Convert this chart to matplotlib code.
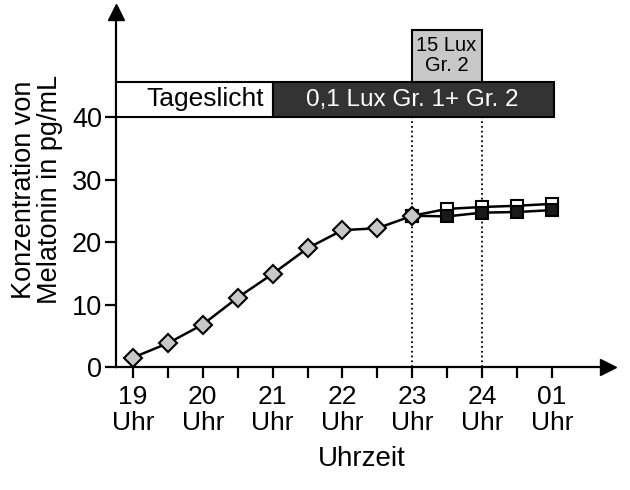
import matplotlib
matplotlib.use("Agg")
import matplotlib.pyplot as plt
from matplotlib.patches import Rectangle

plt.rcParams['font.family'] = ['Liberation Sans', 'DejaVu Sans']

# Uhrzeit in Stunden (25 = 01 Uhr)
t_tag = [19, 19.5, 20, 20.5, 21, 21.5, 22, 22.5, 23]
mel_tag = [1.5, 3.8, 6.8, 11.1, 14.9, 19.0, 21.9, 22.2, 24.2]

t_nacht = [23, 23.5, 24, 24.5, 25]
mel_gr2 = [24.2, 25.3, 25.6, 25.8, 26.1]   # offene Quadrate
mel_gr1 = [24.2, 24.1, 24.7, 24.8, 25.1]   # gefuellte Quadrate

tick_pos = [19, 20, 21, 22, 23, 24, 25]
tick_lab = ['19\nUhr', '20\nUhr', '21\nUhr', '22\nUhr', '23\nUhr', '24\nUhr', '01\nUhr']

fig = plt.figure(figsize=(6.3, 4.9), dpi=100)
ax = fig.add_axes([0.184, 0.251, 0.781, 0.7245])
ax.set_xlim(18.757, 25.8)
ax.set_ylim(0, 56.8)

for s in ['top', 'right']:
    ax.spines[s].set_visible(False)
for s in ['left', 'bottom']:
    ax.spines[s].set_linewidth(1.6)

# Pfeilspitzen
ax.plot(1, 0, '>', color='k', markersize=11, transform=ax.transAxes, clip_on=False)
ax.plot(0, 1, '^', color='k', markersize=11, transform=ax.transAxes, clip_on=False)

# Lichtphasen
ax.add_patch(Rectangle((18.757, 40), 21 - 18.757, 5.6, facecolor='white',
                       edgecolor='k', linewidth=1.5, zorder=3))
ax.add_patch(Rectangle((21, 40), 25.03 - 21, 5.6, facecolor='#333333',
                       edgecolor='k', linewidth=1.5, zorder=3))
ax.add_patch(Rectangle((23, 45.6), 1, 8.4, facecolor='#c8c8c8',
                       edgecolor='k', linewidth=1.5, zorder=3))
ax.text(20.03, 41.8, 'Tageslicht', ha='center', va='baseline', fontsize=19, zorder=4)
ax.text(23.0, 41.8, '0,1 Lux Gr. 1+ Gr. 2', ha='center', va='baseline',
        fontsize=17.5, color='white', zorder=4)
ax.text(23.49, 49.8, '15 Lux\nGr. 2', ha='center', va='center', fontsize=14.5,
        linespacing=1.05, zorder=4)

for xv in [23, 24]:
    ax.plot([xv, xv], [0, 40], color='k', linestyle=':', linewidth=1.3, zorder=1)

ax.plot(t_nacht, mel_gr2, color='k', linewidth=1.8, marker='s', markersize=8,
        markerfacecolor='white', markeredgecolor='k', markeredgewidth=1.5, zorder=5)
ax.plot(t_nacht, mel_gr1, color='k', linewidth=1.8, marker='s', markersize=8,
        markerfacecolor='#1a1a1a', markeredgecolor='k', markeredgewidth=1.5, zorder=6)
ax.plot(t_tag, mel_tag, color='k', linewidth=1.8, marker='D', markersize=9,
        markerfacecolor='#c8c8c8', markeredgecolor='k', markeredgewidth=1.5, zorder=7)

ax.set_xticks(tick_pos)
ax.set_xticklabels(tick_lab, fontsize=19, linespacing=1.1)
ax.set_xticks([19.5, 20.5, 21.5, 22.5, 23.5, 24.5], minor=True)
ax.set_yticks([0, 10, 20, 30, 40])
ax.tick_params(axis='y', labelsize=19.5, length=8, width=1.6, pad=2)
ax.tick_params(axis='x', which='both', length=8, width=1.6, pad=5)

ax.set_xlabel('Uhrzeit', fontsize=20, labelpad=8)
ax.set_ylabel('Konzentration von\nMelatonin in pg/mL', fontsize=19.5, linespacing=1.0, labelpad=6)

fig.savefig('out.png', dpi=100)
